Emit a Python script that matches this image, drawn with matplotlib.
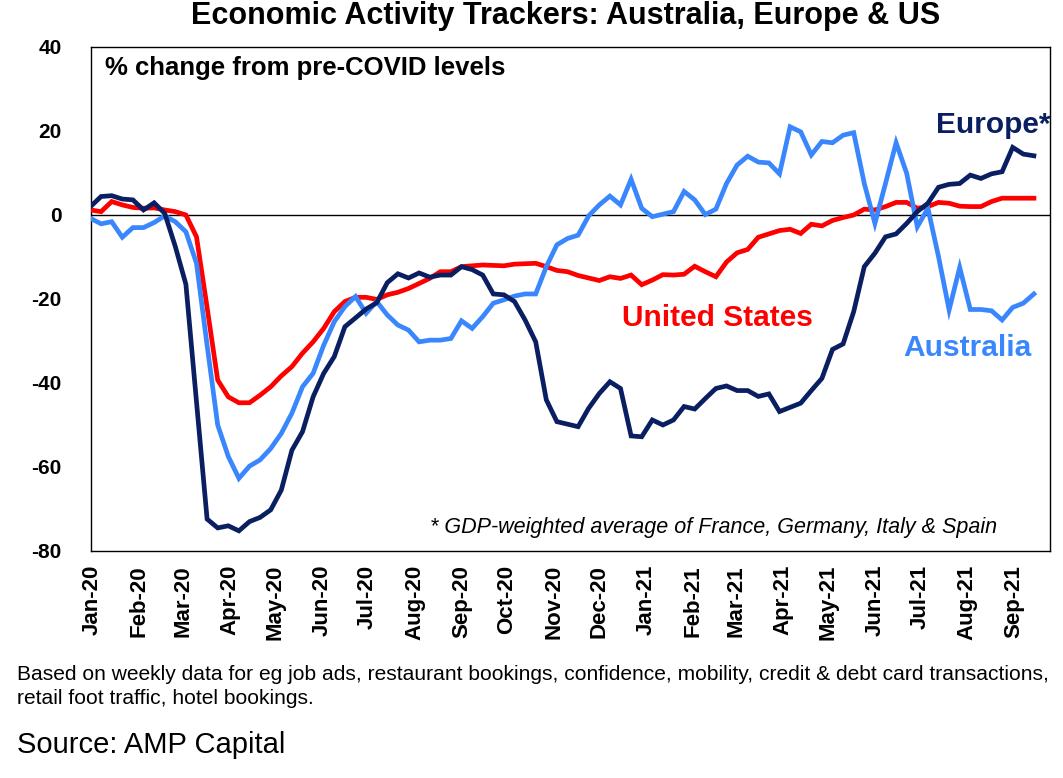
import matplotlib
matplotlib.use("Agg")
import matplotlib.pyplot as plt
import matplotlib.dates as mdates
import pandas as pd

plt.rcParams['font.family'] = ['Liberation Sans', 'DejaVu Sans']

start_date = "2019-12-31"
n_weeks = 90

europe = [2, 4.4, 4.6, 3.8, 3.6, 1.2, 2.9, 0.4, -7.5, -16.5,
          -44.5, -72.4, -74.5, -74, -75.2, -73, -72, -70.2, -65.5, -56,
          -51.6, -43.3, -37.7, -33.7, -26.6, -24.5, -22.4, -20.9, -16.1, -14,
          -15, -13.8, -14.8, -14.3, -14.3, -12.3, -13, -14.3, -18.8, -19,
          -20.6, -25, -30.2, -44, -49.2, -49.8, -50.4, -46, -42.5, -39.7,
          -41.3, -52.6, -52.8, -48.8, -50, -48.8, -45.6, -46.2, -43.7, -41.3,
          -40.7, -41.8, -41.8, -43.2, -42.6, -46.8, -45.8, -44.8, -41.8, -38.9,
          -32, -30.7, -23, -12.3, -9.1, -5.2, -4.5, -2, 0.8, 2.8,
          6.6, 7.3, 7.5, 9.5, 8.7, 9.8, 10.3, 16.1, 14.5, 14.1]

united_states = [1.2, 0.8, 3.2, 2.4, 1.8, 1.6, 1.7, 1.2, 0.8, 0,
                 -5.2, -22, -39.3, -43.3, -44.7, -44.7, -42.9, -40.9, -38.3, -36.1,
                 -32.9, -30.2, -27, -23, -20.6, -19.6, -19.6, -20.1, -19, -18.4,
                 -17.5, -16.3, -15.1, -13.5, -13.5, -12.3, -12.1, -11.9, -12, -12.1,
                 -11.7, -11.6, -11.5, -12.3, -13.2, -13.5, -14.4, -15, -15.6, -14.7,
                 -15.1, -14.3, -16.6, -15.5, -14.2, -14.3, -14.1, -12.2, -13.5, -14.7,
                 -11.2, -9, -8.2, -5.3, -4.5, -3.7, -3.4, -4.4, -2.2, -2.6,
                 -1.3, -0.6, 0, 1.4, 1.2, 2, 3, 3, 1.6, 2,
                 3, 2.8, 2.1, 2, 2, 3.2, 4, 4, 4, 4]

australia = [-0.8, -2.1, -1.6, -5.3, -3, -3, -1.8, -0.2, -1.6, -4,
             -11.5, -31, -50, -57.5, -62.7, -59.8, -58.3, -55.6, -52, -47.2,
             -40.9, -37.7, -31, -25.4, -21.8, -19.4, -23.4, -20.6, -23.8, -26.2,
             -27.4, -30.2, -29.8, -29.8, -29.4, -25.2, -27, -24.2, -21, -20.2,
             -19.3, -18.8, -18.8, -12.3, -7.1, -5.6, -4.8, -0.2, 2.4, 4.5,
             2.4, 8.5, 1.6, -0.4, 0.2, 0.8, 5.6, 3.6, 0.1, 1.4,
             7.5, 11.9, 14, 12.6, 12.4, 9.8, 21, 19.8, 14.3, 17.5,
             17.2, 19, 19.6, 7.5, -2, 7.5, 17.2, 9.9, -2.8, 1.6,
             -9.9, -22.6, -12.5, -22.5, -22.5, -22.8, -25, -22, -21, -18.8]

y_ticks = [-80, -60, -40, -20, 0, 20, 40]

NAVY = '#0a1f62'
RED = '#ff0000'
BLUE = '#3a87fd'

dates = pd.date_range(start_date, periods=n_weeks, freq='7D')

W, H = 1063, 778
fig = plt.figure(figsize=(W / 100, H / 100), dpi=100)
left, right, top, bottom = 91, 1050, 47, 551
ax = fig.add_axes([left / W, 1 - bottom / H, (right - left) / W, (bottom - top) / H])

ax.axhline(0, color='black', lw=1.0, zorder=1)
ax.plot(dates, united_states, color=RED, lw=3.4, zorder=3, solid_joinstyle='miter')
ax.plot(dates, australia, color=BLUE, lw=3.4, zorder=4, solid_joinstyle='miter')
ax.plot(dates, europe, color=NAVY, lw=3.4, zorder=5, solid_joinstyle='miter')

d0 = pd.Timestamp(start_date)
px_per_day = 10.6 / 7
ax.set_xlim(d0 + pd.Timedelta(days=0.5 / px_per_day), d0 + pd.Timedelta(days=959.5 / px_per_day))
ax.set_ylim(-80, 40)
ax.set_yticks(y_ticks)
ax.set_yticklabels([str(v) for v in y_ticks], fontsize=15, fontweight='bold')
ax.xaxis.set_major_locator(mdates.MonthLocator())
ax.xaxis.set_major_formatter(mdates.DateFormatter('%b-%y'))
ax.tick_params(axis='y', length=0, pad=21)
ax.tick_params(axis='x', length=0, pad=10)
plt.setp(ax.get_xticklabels(), rotation=90, fontsize=16, fontweight='bold')
for s in ax.spines.values():
    s.set_linewidth(1.0)
    s.set_color('black')

fig.text(566 / W, 1 - 16 / H, 'Economic Activity Trackers: Australia, Europe & US',
         ha='center', va='center', fontsize=22, fontweight='bold')
fig.text(105 / W, 1 - 68 / H, '% change from pre-COVID levels',
         ha='left', va='center', fontsize=18.5, fontweight='bold')
fig.text(1050 / W, 1 - 125 / H, 'Europe*', ha='right', va='center',
         fontsize=21.5, fontweight='bold', color=NAVY)
fig.text(622 / W, 1 - 318 / H, 'United States', ha='left', va='center',
         fontsize=21.5, fontweight='bold', color=RED)
fig.text(903 / W, 1 - 348 / H, 'Australia', ha='left', va='center',
         fontsize=21.5, fontweight='bold', color=BLUE)
fig.text(430 / W, 1 - 528 / H, '* GDP-weighted average of France, Germany, Italy & Spain',
         ha='left', va='center', fontsize=15.5, fontstyle='italic')
fig.text(17 / W, 1 - 675 / H,
         'Based on weekly data for eg job ads, restaurant bookings, confidence, mobility, credit & debt card transactions,',
         ha='left', va='center', fontsize=15.1)
fig.text(17 / W, 1 - 698 / H, 'retail foot traffic, hotel bookings.',
         ha='left', va='center', fontsize=15.1)
fig.text(17 / W, 1 - 745 / H, 'Source: AMP Capital', ha='left', va='center', fontsize=21)

fig.savefig('out.png', dpi=100)
